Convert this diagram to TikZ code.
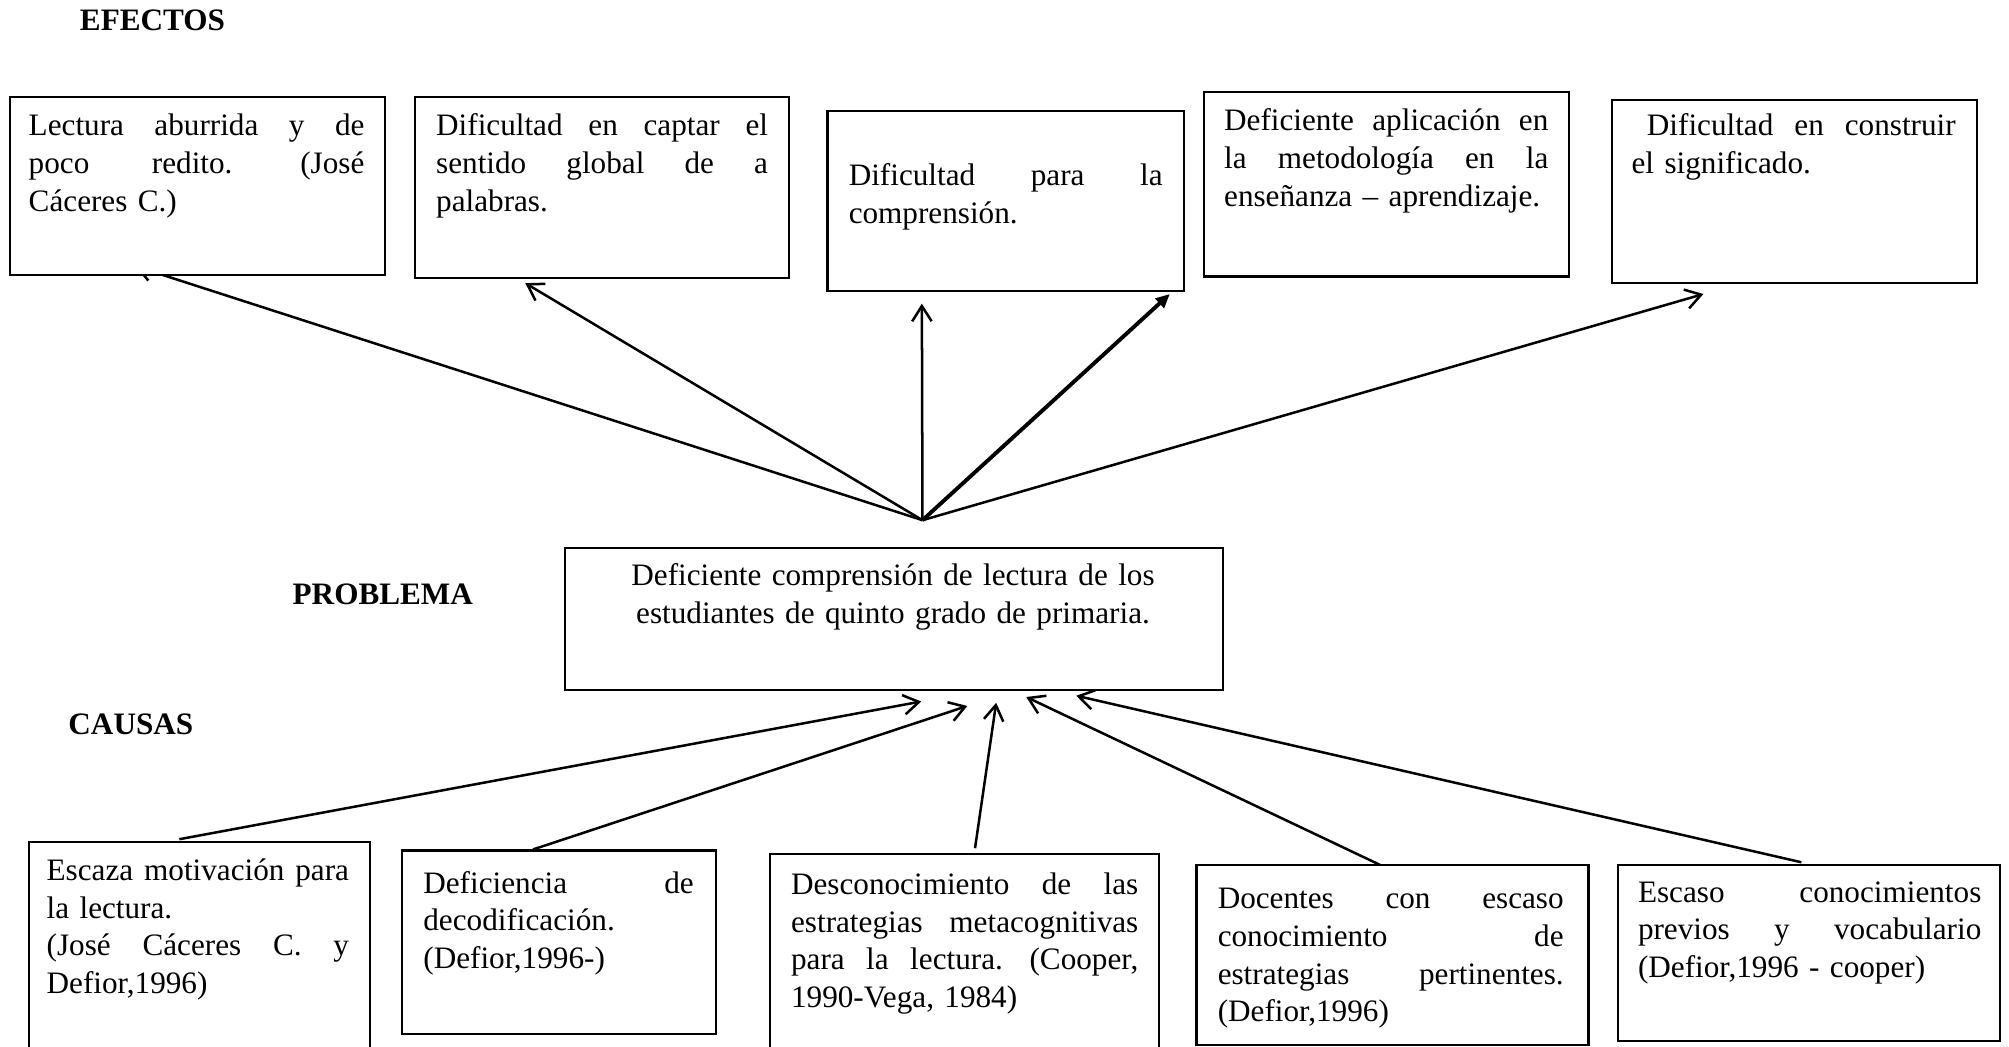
\documentclass[tikz,border=0pt]{standalone}
\usepackage{fontspec}
\setmainfont{Liberation Serif}
\usetikzlibrary{arrows.meta,calc}
\newdimen\uu \uu=0.46pt
\newcommand\J[2]{\leavevmode\hbox to #1\uu{#2}}
\newcommand\gp{\hfill}
\newcommand\bx[5]{\node[bx, minimum width={(#4-#2)*0.46pt}, minimum height={(#5-#3)*0.46pt}] (#1) at (#2,#3) {};}
\tikzset{
  bx/.style={draw, line width=0.75pt, fill=white, anchor=north west, inner sep=0pt},
  txt/.style={anchor=base west, inner sep=0pt, align=left, text width=#1*0.46pt,
    font=\fontsize{11.2pt}{13.57pt}\selectfont},
  lbl/.style={anchor=base west, inner sep=0pt, font=\fontsize{11.2pt}{13.57pt}\selectfont\bfseries},
  arr/.style={line width=0.9pt, -{Straight Barb[length=5.5pt,width=7pt]}},
  arrb/.style={line width=1.4pt, -{Triangle[length=5pt,width=4.5pt]}},
}
\begin{document}
\begin{tikzpicture}[x=0.46pt,y=-0.46pt]
\useasboundingbox (0,0) rectangle (1568,817);
\clip (0,0) rectangle (1568,817);

% hub and tips
\coordinate (hub) at (720,406);
\coordinate (t1) at (105,207.5);
\coordinate (t2) at (410,221);
\coordinate (t3) at (719.5,237);
\coordinate (t4) at (913,229.5);
\coordinate (t5) at (1329.5,229.5);
\draw[arr] (hub) -- (t1);
\draw[arr] (hub) -- (t2);
\draw[arr] (hub) -- (t3);
\draw[arrb] (hub) -- (t4);
\draw[arr] (hub) -- (t5);

% effect boxes
\bx{b1}{7}{75}{300}{214}
\bx{b2}{323}{75}{615}{216}
\bx{b3}{645}{86}{923}{226}
\bx{b4}{939}{71}{1224}{215}
\bx{b5}{1257}{77}{1542}{220}

\node[lbl] (efectos) at (62,24) {EFECTOS};
\node[lbl] (problema) at (228,472) {PROBLEMA};
\node[lbl] (causas) at (53,573) {CAUSAS};

\node[txt=262] (b1t) at (22,106) {\J{262}{Lectura \gp aburrida \gp y \gp de}\\\J{262}{poco \gp redito. \gp (José}\\Cáceres C.)};
\node[txt=259] (b2t) at (340,106) {\J{259}{Dificultad \gp en \gp captar \gp el}\\\J{259}{sentido \gp global \gp de \gp a}\\palabras.};
\node[txt=245] (b3t) at (662,145) {\J{245}{Dificultad \gp para \gp la}\\comprensión.};
\node[txt=253] (b4t) at (955,102) {\J{253}{Deficiente \gp aplicación \gp en}\\\J{253}{la \gp metodología \gp en \gp la}\\enseñanza – aprendizaje.};
\node[txt=253] (b5t) at (1273,106) {\J{253}{\hspace*{5.5pt}Dificultad \gp en \gp construir}\\el significado.};

% problem box
\bx{prob}{440}{427}{954}{538}
\node[anchor=base, inner sep=0pt, align=center, text width=480*0.46pt,
  font=\fontsize{11.2pt}{13.57pt}\selectfont] (probt) at (697,457)
  {Deficiente comprensión de lectura de los\\estudiantes de quinto grado de primaria.};

% cause arrows
\coordinate (s1) at (140,655);
\coordinate (s2) at (416,663);
\coordinate (s3) at (761,662);
\coordinate (s4) at (1077,675);
\coordinate (s5) at (1406,673);
\coordinate (p1) at (719,547.5);
\coordinate (p2) at (755,551);
\coordinate (p3) at (777.5,548.5);
\coordinate (p4) at (801,544);
\coordinate (p5) at (840,543);
\draw[arr] (s1) -- (p1);
\draw[arr] (s2) -- (p2);
\draw[arr] (s3) -- (p3);
\draw[arr] (s4) -- (p4);
\draw[arr] (s5) -- (p5);

% cause boxes
\bx{c1}{22}{656}{288}{840}
\bx{c2}{313}{663}{558}{806}
\bx{c3}{600}{666}{904}{840}
\bx{c4}{933}{674}{1239}{815}
\bx{c5}{1262}{674}{1560}{812}

\node[txt=236] (c1t) at (36,687) {\J{236}{Escaza \gp motivación \gp para}\\la lectura.\\\J{236}{(José \gp Cáceres \gp C. \gp y}\\Defior,1996)};
\node[txt=211] (c2t) at (330,697) {\J{211}{Deficiencia \gp de}\\decodificación.\\(Defior,1996-)};
\node[txt=271] (c3t) at (617,698) {\J{271}{Desconocimiento \gp de \gp las}\\\J{271}{estrategias \gp metacognitivas}\\\J{271}{para \gp la \gp lectura. \gp (Cooper,}\\1990-Vega, 1984)};
\node[txt=270] (c4t) at (950,709) {\J{270}{Docentes \gp con \gp escaso}\\\J{270}{conocimiento \gp de}\\\J{270}{estrategias \gp pertinentes.}\\(Defior,1996)};
\node[txt=268] (c5t) at (1278,704) {\J{268}{Escaso \gp conocimientos}\\\J{268}{previos \gp y \gp vocabulario}\\(Defior,1996 - cooper)};
\end{tikzpicture}
\end{document}
